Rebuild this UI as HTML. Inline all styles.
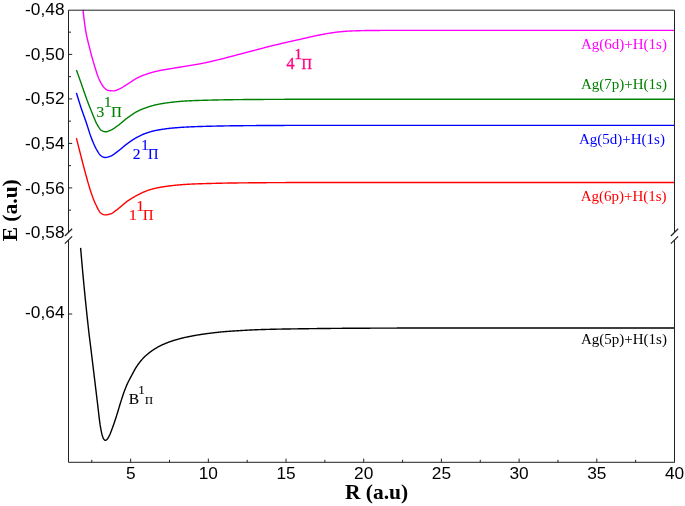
<!DOCTYPE html>
<html><head><meta charset="utf-8"><title>Potential energy curves</title>
<style>html,body{margin:0;padding:0;background:#fff;}body{width:685px;height:506px;position:relative;overflow:hidden;font-family:"Liberation Sans",sans-serif;}</style>
</head><body>
<svg width="685" height="506" viewBox="0 0 685 506" style="position:absolute;left:0;top:0">
<rect width="685" height="506" fill="#fff"/>
<path d="M80.60,247.90 L81.10,253.77 L81.60,259.53 L82.10,265.18 L82.60,270.72 L83.10,276.16 L83.60,281.50 L84.10,286.74 L84.60,291.89 L85.10,296.95 L85.60,301.91 L86.10,306.79 L86.60,311.59 L87.10,316.31 L87.60,320.94 L88.10,325.51 L88.60,330.00 L89.10,334.32 L89.60,338.43 L90.10,342.42 L90.60,346.37 L91.10,350.38 L91.60,354.48 L92.10,358.60 L92.60,362.72 L93.10,366.85 L93.60,370.99 L94.10,375.12 L94.60,379.25 L95.10,383.40 L95.60,387.55 L96.10,391.70 L96.60,395.85 L97.10,399.98 L97.60,404.10 L98.10,408.36 L98.60,412.78 L99.10,417.13 L99.60,421.17 L100.10,424.68 L100.60,427.65 L101.10,430.40 L101.60,432.85 L102.10,434.90 L102.60,436.49 L103.10,437.85 L103.60,438.89 L104.10,439.51 L104.60,439.98 L105.10,440.31 L105.60,440.39 L106.10,440.19 L106.60,439.78 L107.10,439.30 L107.60,438.71 L108.10,437.94 L108.60,437.05 L109.10,436.09 L109.60,435.09 L110.10,433.97 L110.60,432.76 L111.10,431.49 L111.60,430.15 L112.10,428.79 L112.60,427.42 L113.10,426.05 L113.60,424.65 L114.10,423.22 L114.60,421.75 L115.10,420.25 L115.60,418.73 L116.10,417.19 L116.60,415.64 L117.10,414.07 L117.60,412.45 L118.10,410.78 L118.60,409.09 L119.10,407.39 L119.60,405.71 L120.10,404.05 L120.60,402.44 L121.10,400.88 L121.60,399.35 L122.10,397.81 L122.60,396.29 L123.10,394.79 L123.60,393.32 L124.10,391.89 L124.60,390.50 L125.10,389.16 L125.60,387.88 L126.10,386.66 L126.60,385.50 L127.10,384.39 L127.60,383.31 L128.10,382.26 L128.60,381.25 L129.10,380.26 L129.60,379.28 L130.10,378.33 L130.60,377.38 L131.10,376.44 L131.60,375.50 L132.10,374.56 L132.60,373.62 L133.10,372.68 L133.60,371.75 L134.10,370.84 L134.60,369.94 L135.10,369.07 L135.60,368.21 L136.10,367.39 L136.60,366.60 L137.10,365.85 L137.60,365.12 L138.10,364.42 L138.60,363.73 L139.10,363.07 L139.60,362.41 L140.10,361.78 L140.60,361.16 L141.10,360.56 L141.60,359.98 L142.10,359.41 L142.60,358.86 L143.10,358.32 L143.60,357.80 L144.10,357.29 L144.60,356.80 L145.10,356.32 L145.60,355.85 L146.10,355.40 L146.60,354.95 L147.10,354.52 L147.60,354.09 L148.10,353.68 L148.60,353.28 L149.10,352.88 L149.60,352.50 L150.10,352.13 L150.60,351.76 L151.10,351.40 L151.60,351.04 L152.10,350.69 L152.60,350.34 L153.10,350.00 L153.60,349.66 L154.10,349.33 L154.60,349.01 L155.10,348.69 L155.60,348.38 L156.10,348.08 L156.60,347.78 L157.10,347.49 L157.60,347.21 L158.10,346.93 L158.60,346.66 L159.10,346.40 L159.60,346.15 L160.10,345.90 L160.60,345.65 L161.10,345.41 L161.60,345.17 L162.10,344.93 L162.60,344.70 L163.10,344.47 L163.60,344.25 L164.10,344.03 L164.60,343.81 L165.10,343.60 L165.60,343.39 L166.10,343.19 L166.60,342.98 L167.10,342.79 L167.60,342.59 L168.10,342.40 L168.60,342.21 L169.10,342.03 L169.60,341.85 L170.10,341.67 L170.60,341.50 L171.10,341.33 L171.60,341.17 L172.10,341.00 L172.60,340.84 L173.10,340.68 L173.60,340.53 L174.10,340.37 L174.60,340.22 L175.10,340.07 L175.60,339.92 L176.10,339.77 L176.60,339.62 L177.10,339.48 L177.60,339.34 L178.10,339.20 L178.60,339.06 L179.10,338.92 L179.60,338.79 L180.10,338.66 L180.60,338.53 L181.10,338.40 L181.60,338.27 L182.10,338.15 L182.60,338.03 L183.10,337.90 L183.60,337.79 L184.10,337.67 L184.60,337.55 L185.10,337.44 L185.60,337.33 L186.10,337.22 L186.60,337.11 L187.10,337.00 L187.60,336.89 L188.10,336.79 L188.60,336.69 L189.10,336.58 L189.60,336.48 L190.10,336.38 L190.60,336.29 L191.10,336.19 L191.60,336.09 L192.10,336.00 L192.60,335.90 L193.10,335.81 L193.60,335.72 L194.10,335.62 L194.60,335.53 L195.10,335.44 L195.60,335.36 L196.10,335.27 L196.60,335.18 L197.10,335.10 L197.60,335.01 L198.10,334.93 L198.60,334.85 L199.10,334.77 L199.60,334.69 L200.10,334.61 L200.60,334.53 L201.10,334.45 L201.60,334.38 L202.10,334.30 L202.60,334.23 L203.10,334.15 L203.60,334.08 L204.10,334.01 L204.60,333.94 L205.10,333.87 L205.60,333.80 L206.10,333.73 L206.60,333.66 L207.10,333.60 L207.60,333.53 L208.10,333.46 L208.60,333.40 L209.10,333.33 L209.60,333.27 L210.10,333.21 L210.60,333.14 L211.10,333.08 L211.60,333.02 L212.10,332.96 L212.60,332.90 L213.10,332.84 L213.60,332.78 L214.10,332.72 L214.60,332.66 L215.10,332.60 L215.60,332.55 L216.10,332.49 L216.60,332.43 L217.10,332.38 L217.60,332.33 L218.10,332.27 L218.60,332.22 L219.10,332.17 L219.60,332.12 L220.10,332.07 L220.60,332.02 L221.10,331.97 L221.60,331.92 L222.10,331.88 L222.60,331.83 L223.10,331.79 L223.60,331.74 L224.10,331.70 L224.60,331.66 L225.10,331.62 L225.60,331.57 L226.10,331.53 L226.60,331.49 L227.10,331.45 L227.60,331.42 L228.10,331.38 L228.60,331.34 L229.10,331.30 L229.60,331.27 L230.10,331.23 L230.60,331.19 L231.10,331.16 L231.60,331.12 L232.10,331.09 L232.60,331.06 L233.10,331.02 L233.60,330.99 L234.10,330.96 L234.60,330.93 L235.10,330.89 L235.60,330.86 L236.10,330.83 L236.60,330.80 L237.10,330.77 L237.60,330.74 L238.10,330.71 L238.60,330.68 L239.10,330.65 L239.60,330.62 L240.10,330.59 L240.60,330.57 L241.10,330.54 L241.60,330.51 L242.10,330.48 L242.60,330.45 L243.10,330.42 L243.60,330.39 L244.10,330.37 L244.60,330.34 L245.10,330.31 L245.60,330.28 L246.10,330.25 L246.60,330.23 L247.10,330.20 L247.60,330.17 L248.10,330.14 L248.60,330.12 L249.10,330.09 L249.60,330.06 L250.10,330.04 L250.60,330.01 L251.10,329.99 L251.60,329.96 L252.10,329.94 L252.60,329.91 L253.10,329.89 L253.60,329.86 L254.10,329.84 L254.60,329.82 L255.10,329.79 L255.60,329.77 L256.10,329.75 L256.60,329.73 L257.10,329.71 L257.60,329.69 L258.10,329.67 L258.60,329.65 L259.10,329.63 L259.60,329.61 L260.10,329.59 L260.60,329.58 L261.10,329.56 L261.60,329.54 L262.10,329.53 L262.60,329.51 L263.10,329.50 L263.60,329.48 L264.10,329.47 L264.60,329.46 L265.10,329.44 L265.60,329.43 L266.10,329.42 L266.60,329.40 L267.10,329.39 L267.60,329.38 L268.10,329.36 L268.60,329.35 L269.10,329.34 L269.60,329.33 L270.10,329.32 L270.60,329.30 L271.10,329.29 L271.60,329.28 L272.10,329.27 L272.60,329.26 L273.10,329.25 L273.60,329.24 L274.10,329.22 L274.60,329.21 L275.10,329.20 L275.60,329.19 L276.10,329.18 L276.60,329.17 L277.10,329.16 L277.60,329.15 L278.10,329.14 L278.60,329.13 L279.10,329.12 L279.60,329.11 L280.10,329.10 L280.60,329.09 L281.10,329.09 L281.60,329.08 L282.10,329.07 L282.60,329.06 L283.10,329.05 L283.60,329.04 L284.10,329.03 L284.60,329.02 L285.10,329.01 L285.60,329.01 L286.10,329.00 L286.60,328.99 L287.10,328.98 L287.60,328.97 L288.10,328.97 L288.60,328.96 L289.10,328.95 L289.60,328.94 L290.10,328.93 L290.60,328.93 L291.10,328.92 L291.60,328.91 L292.10,328.90 L292.60,328.90 L293.10,328.89 L293.60,328.88 L294.10,328.88 L294.60,328.87 L295.10,328.86 L295.60,328.85 L296.10,328.85 L296.60,328.84 L297.10,328.83 L297.60,328.83 L298.10,328.82 L298.60,328.81 L299.10,328.81 L299.60,328.80 L300.10,328.79 L300.60,328.79 L301.10,328.78 L301.60,328.77 L302.10,328.77 L302.60,328.76 L303.10,328.75 L303.60,328.75 L304.10,328.74 L304.60,328.73 L305.10,328.73 L305.60,328.72 L306.10,328.71 L306.60,328.71 L307.10,328.70 L307.60,328.69 L308.10,328.69 L308.60,328.68 L309.10,328.67 L309.60,328.67 L310.10,328.66 L310.60,328.65 L311.10,328.65 L311.60,328.64 L312.10,328.64 L312.60,328.63 L313.10,328.62 L313.60,328.62 L314.10,328.61 L314.60,328.60 L315.10,328.60 L315.60,328.59 L316.10,328.59 L316.60,328.58 L317.10,328.57 L317.60,328.57 L318.10,328.56 L318.60,328.56 L319.10,328.55 L319.60,328.54 L320.10,328.54 L320.60,328.53 L321.10,328.53 L321.60,328.52 L322.10,328.52 L322.60,328.51 L323.10,328.50 L323.60,328.50 L324.10,328.49 L324.60,328.49 L325.10,328.48 L325.60,328.48 L326.10,328.47 L326.60,328.47 L327.10,328.46 L327.60,328.46 L328.10,328.45 L328.60,328.45 L329.10,328.44 L329.60,328.44 L330.10,328.43 L330.60,328.43 L331.10,328.42 L331.60,328.42 L332.10,328.41 L332.60,328.41 L333.10,328.40 L333.60,328.40 L334.10,328.39 L334.60,328.39 L335.10,328.38 L335.60,328.38 L336.10,328.37 L336.60,328.37 L337.10,328.36 L337.60,328.36 L338.10,328.36 L338.60,328.35 L339.10,328.35 L339.60,328.34 L340.10,328.34 L340.60,328.34 L341.10,328.33 L341.60,328.33 L342.10,328.32 L342.60,328.32 L343.10,328.32 L343.60,328.31 L344.10,328.31 L344.60,328.31 L345.10,328.30 L345.60,328.30 L346.10,328.30 L346.60,328.29 L347.10,328.29 L347.60,328.29 L348.10,328.28 L348.60,328.28 L349.10,328.28 L349.60,328.27 L350.10,328.27 L350.60,328.27 L351.10,328.26 L351.60,328.26 L352.10,328.26 L352.60,328.26 L353.10,328.25 L353.60,328.25 L354.10,328.25 L354.60,328.25 L355.10,328.24 L355.60,328.24 L356.10,328.24 L356.60,328.24 L357.10,328.24 L357.60,328.23 L358.10,328.23 L358.60,328.23 L359.10,328.23 L359.60,328.22 L360.10,328.22 L360.60,328.22 L361.10,328.22 L361.60,328.21 L362.10,328.21 L362.60,328.21 L363.10,328.21 L363.60,328.21 L364.10,328.20 L364.60,328.20 L365.10,328.20 L365.60,328.20 L366.10,328.19 L366.60,328.19 L367.10,328.19 L367.60,328.19 L368.10,328.19 L368.60,328.18 L369.10,328.18 L369.60,328.18 L370.10,328.18 L370.60,328.17 L371.10,328.17 L371.60,328.17 L372.10,328.17 L372.60,328.17 L373.10,328.16 L373.60,328.16 L374.10,328.16 L374.60,328.16 L375.10,328.16 L375.60,328.15 L376.10,328.15 L376.60,328.15 L377.10,328.15 L377.60,328.15 L378.10,328.14 L378.60,328.14 L379.10,328.14 L379.60,328.14 L380.10,328.14 L380.60,328.13 L381.10,328.13 L381.60,328.13 L382.10,328.13 L382.60,328.13 L383.10,328.12 L383.60,328.12 L384.10,328.12 L384.60,328.12 L385.10,328.12 L385.60,328.11 L386.10,328.11 L386.60,328.11 L387.10,328.11 L387.60,328.11 L388.10,328.10 L388.60,328.10 L389.10,328.10 L389.60,328.10 L390.10,328.10 L390.60,328.10 L391.10,328.09 L391.60,328.09 L392.10,328.09 L392.60,328.09 L393.10,328.09 L393.60,328.09 L394.10,328.08 L394.60,328.08 L395.10,328.08 L395.60,328.08 L396.10,328.08 L396.60,328.08 L397.10,328.07 L397.60,328.07 L398.10,328.07 L398.60,328.07 L399.10,328.07 L399.60,328.07 L400.10,328.06 L400.60,328.06 L401.10,328.06 L401.60,328.06 L402.10,328.06 L402.60,328.06 L403.10,328.06 L403.60,328.05 L404.10,328.05 L404.60,328.05 L405.10,328.05 L405.60,328.05 L406.10,328.05 L406.60,328.05 L407.10,328.05 L407.60,328.04 L408.10,328.04 L408.60,328.04 L409.10,328.04 L409.60,328.04 L410.10,328.04 L410.60,328.04 L411.10,328.04 L411.60,328.03 L412.10,328.03 L412.60,328.03 L413.10,328.03 L413.60,328.03 L414.10,328.03 L414.60,328.03 L415.10,328.03 L415.60,328.03 L416.10,328.02 L416.60,328.02 L417.10,328.02 L417.60,328.02 L418.10,328.02 L418.60,328.02 L419.10,328.02 L419.60,328.02 L674.50,328.00" fill="none" stroke="#000000" stroke-width="1.4" stroke-linejoin="round"/>
<path d="M76.40,138.20 L76.90,140.19 L77.40,142.17 L77.90,144.14 L78.40,146.11 L78.90,148.07 L79.40,150.03 L79.90,151.98 L80.40,153.92 L80.90,155.86 L81.40,157.81 L81.90,159.76 L82.40,161.71 L82.90,163.65 L83.40,165.58 L83.90,167.50 L84.40,169.39 L84.90,171.26 L85.40,173.11 L85.90,174.92 L86.40,176.74 L86.90,178.56 L87.40,180.36 L87.90,182.15 L88.40,183.91 L88.90,185.64 L89.40,187.32 L89.90,188.94 L90.40,190.50 L90.90,191.99 L91.40,193.45 L91.90,194.87 L92.40,196.27 L92.90,197.64 L93.40,198.96 L93.90,200.24 L94.40,201.47 L94.90,202.64 L95.40,203.76 L95.90,204.80 L96.40,205.80 L96.90,206.82 L97.40,207.83 L97.90,208.81 L98.40,209.75 L98.90,210.63 L99.40,211.43 L99.90,212.13 L100.40,212.72 L100.90,213.16 L101.40,213.48 L101.90,213.78 L102.40,214.05 L102.90,214.30 L103.40,214.52 L103.90,214.69 L104.40,214.82 L104.90,214.89 L105.40,214.90 L105.90,214.87 L106.40,214.83 L106.90,214.76 L107.40,214.67 L107.90,214.57 L108.40,214.45 L108.90,214.32 L109.40,214.19 L109.90,214.04 L110.40,213.90 L110.90,213.73 L111.40,213.53 L111.90,213.28 L112.40,213.00 L112.90,212.69 L113.40,212.36 L113.90,212.01 L114.40,211.64 L114.90,211.26 L115.40,210.88 L115.90,210.49 L116.40,210.10 L116.90,209.72 L117.40,209.35 L117.90,208.98 L118.40,208.61 L118.90,208.22 L119.40,207.82 L119.90,207.41 L120.40,206.99 L120.90,206.56 L121.40,206.13 L121.90,205.70 L122.40,205.27 L122.90,204.83 L123.40,204.40 L123.90,203.97 L124.40,203.54 L124.90,203.13 L125.40,202.71 L125.90,202.31 L126.40,201.92 L126.90,201.54 L127.40,201.18 L127.90,200.83 L128.40,200.49 L128.90,200.16 L129.40,199.83 L129.90,199.50 L130.40,199.18 L130.90,198.87 L131.40,198.56 L131.90,198.25 L132.40,197.95 L132.90,197.65 L133.40,197.36 L133.90,197.07 L134.40,196.79 L134.90,196.50 L135.40,196.23 L135.90,195.96 L136.40,195.69 L136.90,195.42 L137.40,195.16 L137.90,194.90 L138.40,194.65 L138.90,194.39 L139.40,194.14 L139.90,193.89 L140.40,193.64 L140.90,193.39 L141.40,193.14 L141.90,192.90 L142.40,192.66 L142.90,192.42 L143.40,192.19 L143.90,191.96 L144.40,191.74 L144.90,191.52 L145.40,191.31 L145.90,191.11 L146.40,190.91 L146.90,190.72 L147.40,190.54 L147.90,190.37 L148.40,190.20 L148.90,190.04 L149.40,189.88 L149.90,189.73 L150.40,189.58 L150.90,189.44 L151.40,189.30 L151.90,189.16 L152.40,189.02 L152.90,188.89 L153.40,188.76 L153.90,188.64 L154.40,188.52 L154.90,188.40 L155.40,188.28 L155.90,188.17 L156.40,188.06 L156.90,187.96 L157.40,187.85 L157.90,187.75 L158.40,187.66 L158.90,187.56 L159.40,187.47 L159.90,187.38 L160.40,187.29 L160.90,187.20 L161.40,187.12 L161.90,187.03 L162.40,186.95 L162.90,186.86 L163.40,186.78 L163.90,186.71 L164.40,186.63 L164.90,186.55 L165.40,186.48 L165.90,186.40 L166.40,186.33 L166.90,186.26 L167.40,186.19 L167.90,186.12 L168.40,186.06 L168.90,185.99 L169.40,185.93 L169.90,185.87 L170.40,185.81 L170.90,185.75 L171.40,185.69 L171.90,185.63 L172.40,185.58 L172.90,185.52 L173.40,185.47 L173.90,185.42 L174.40,185.36 L174.90,185.31 L175.40,185.26 L175.90,185.21 L176.40,185.17 L176.90,185.12 L177.40,185.07 L177.90,185.02 L178.40,184.98 L178.90,184.93 L179.40,184.89 L179.90,184.85 L180.40,184.80 L180.90,184.76 L181.40,184.72 L181.90,184.68 L182.40,184.64 L182.90,184.60 L183.40,184.57 L183.90,184.53 L184.40,184.50 L184.90,184.46 L185.40,184.43 L185.90,184.40 L186.40,184.37 L186.90,184.34 L187.40,184.31 L187.90,184.28 L188.40,184.25 L188.90,184.22 L189.40,184.20 L189.90,184.17 L190.40,184.14 L190.90,184.12 L191.40,184.09 L191.90,184.07 L192.40,184.04 L192.90,184.02 L193.40,184.00 L193.90,183.98 L194.40,183.96 L194.90,183.93 L195.40,183.91 L195.90,183.89 L196.40,183.87 L196.90,183.86 L197.40,183.84 L197.90,183.82 L198.40,183.80 L198.90,183.78 L199.40,183.77 L199.90,183.75 L200.40,183.74 L200.90,183.72 L201.40,183.71 L201.90,183.69 L202.40,183.68 L202.90,183.66 L203.40,183.65 L203.90,183.63 L204.40,183.62 L204.90,183.60 L205.40,183.59 L205.90,183.58 L206.40,183.56 L206.90,183.55 L207.40,183.53 L207.90,183.52 L208.40,183.51 L208.90,183.49 L209.40,183.48 L209.90,183.47 L210.40,183.45 L210.90,183.44 L211.40,183.43 L211.90,183.41 L212.40,183.40 L212.90,183.39 L213.40,183.38 L213.90,183.36 L214.40,183.35 L214.90,183.34 L215.40,183.33 L215.90,183.31 L216.40,183.30 L216.90,183.29 L217.40,183.28 L217.90,183.27 L218.40,183.26 L218.90,183.24 L219.40,183.23 L219.90,183.22 L220.40,183.21 L220.90,183.20 L221.40,183.19 L221.90,183.18 L222.40,183.17 L222.90,183.16 L223.40,183.15 L223.90,183.14 L224.40,183.13 L224.90,183.12 L225.40,183.11 L225.90,183.10 L226.40,183.09 L226.90,183.08 L227.40,183.07 L227.90,183.06 L228.40,183.06 L228.90,183.05 L229.40,183.04 L229.90,183.03 L230.40,183.02 L230.90,183.01 L231.40,183.01 L231.90,183.00 L232.40,182.99 L232.90,182.98 L233.40,182.98 L233.90,182.97 L234.40,182.96 L234.90,182.96 L235.40,182.95 L235.90,182.94 L236.40,182.94 L236.90,182.93 L237.40,182.93 L237.90,182.92 L238.40,182.92 L238.90,182.91 L239.40,182.91 L239.90,182.90 L240.40,182.90 L240.90,182.89 L241.40,182.89 L241.90,182.88 L242.40,182.88 L242.90,182.87 L243.40,182.87 L243.90,182.86 L244.40,182.86 L244.90,182.85 L245.40,182.85 L245.90,182.84 L246.40,182.84 L246.90,182.84 L247.40,182.83 L247.90,182.83 L248.40,182.82 L248.90,182.82 L249.40,182.81 L249.90,182.81 L250.40,182.80 L250.90,182.80 L251.40,182.80 L251.90,182.79 L252.40,182.79 L252.90,182.78 L253.40,182.78 L253.90,182.77 L254.40,182.77 L254.90,182.77 L255.40,182.76 L255.90,182.76 L256.40,182.75 L256.90,182.75 L257.40,182.75 L257.90,182.74 L258.40,182.74 L258.90,182.73 L259.40,182.73 L259.90,182.73 L260.40,182.72 L260.90,182.72 L261.40,182.71 L261.90,182.71 L262.40,182.71 L262.90,182.70 L263.40,182.70 L263.90,182.70 L264.40,182.69 L264.90,182.69 L265.40,182.68 L265.90,182.68 L266.40,182.68 L266.90,182.67 L267.40,182.67 L267.90,182.67 L268.40,182.66 L268.90,182.66 L269.40,182.66 L269.90,182.65 L270.40,182.65 L270.90,182.65 L271.40,182.64 L271.90,182.64 L272.40,182.64 L272.90,182.64 L273.40,182.63 L273.90,182.63 L274.40,182.63 L274.90,182.62 L275.40,182.62 L275.90,182.62 L276.40,182.62 L276.90,182.61 L277.40,182.61 L277.90,182.61 L278.40,182.61 L278.90,182.60 L279.40,182.60 L279.90,182.60 L280.40,182.60 L280.90,182.59 L281.40,182.59 L281.90,182.59 L282.40,182.59 L282.90,182.59 L283.40,182.58 L283.90,182.58 L284.40,182.58 L284.90,182.58 L285.40,182.58 L285.90,182.57 L286.40,182.57 L286.90,182.57 L287.40,182.57 L287.90,182.57 L288.40,182.57 L288.90,182.57 L289.40,182.56 L289.90,182.56 L290.40,182.56 L290.90,182.56 L291.40,182.56 L291.90,182.56 L292.40,182.56 L292.90,182.56 L293.40,182.56 L293.90,182.55 L294.40,182.55 L294.90,182.55 L295.40,182.55 L295.90,182.55 L296.40,182.55 L296.90,182.55 L297.40,182.55 L297.90,182.55 L298.40,182.55 L298.90,182.55 L299.40,182.55 L299.90,182.55 L300.40,182.55 L300.90,182.55 L301.40,182.55 L301.90,182.55 L302.40,182.55 L302.90,182.55 L303.40,182.55 L303.90,182.55 L304.40,182.55 L304.90,182.55 L305.40,182.55 L305.90,182.55 L306.40,182.55 L306.90,182.55 L307.40,182.55 L307.90,182.55 L308.40,182.55 L308.90,182.55 L309.40,182.55 L309.90,182.55 L310.40,182.55 L310.90,182.55 L311.40,182.55 L311.90,182.55 L312.40,182.55 L312.90,182.55 L313.40,182.55 L313.90,182.55 L314.40,182.55 L314.90,182.55 L315.40,182.55 L315.90,182.55 L316.40,182.55 L316.90,182.55 L317.40,182.55 L317.90,182.55 L318.40,182.55 L318.90,182.55 L319.40,182.55 L319.90,182.55 L320.40,182.55 L320.90,182.55 L321.40,182.55 L321.90,182.55 L322.40,182.55 L322.90,182.55 L323.40,182.55 L323.90,182.55 L324.40,182.55 L324.90,182.55 L325.40,182.55 L325.90,182.55 L326.40,182.55 L326.90,182.55 L327.40,182.55 L327.90,182.55 L328.40,182.55 L328.90,182.55 L329.40,182.55 L329.90,182.55 L330.40,182.55 L330.90,182.55 L331.40,182.55 L331.90,182.55 L332.40,182.55 L332.90,182.55 L333.40,182.55 L333.90,182.55 L334.40,182.55 L334.90,182.55 L335.40,182.55 L335.90,182.55 L336.40,182.55 L336.90,182.55 L337.40,182.55 L337.90,182.55 L338.40,182.55 L338.90,182.55 L339.40,182.55 L339.90,182.55 L340.40,182.55 L340.90,182.55 L341.40,182.55 L341.90,182.55 L342.40,182.55 L342.90,182.55 L343.40,182.55 L343.90,182.55 L344.40,182.55 L344.90,182.55 L345.40,182.55 L345.90,182.55 L346.40,182.55 L346.90,182.55 L347.40,182.55 L347.90,182.55 L348.40,182.55 L348.90,182.55 L349.40,182.55 L349.90,182.55 L350.40,182.55 L350.90,182.55 L351.40,182.55 L351.90,182.55 L352.40,182.55 L352.90,182.55 L353.40,182.55 L353.90,182.55 L354.40,182.55 L354.90,182.55 L355.40,182.55 L355.90,182.55 L356.40,182.55 L356.90,182.55 L357.40,182.55 L357.90,182.55 L358.40,182.55 L358.90,182.55 L359.40,182.55 L359.90,182.55 L360.40,182.55 L360.90,182.55 L361.40,182.55 L361.90,182.55 L362.40,182.55 L362.90,182.55 L363.40,182.55 L363.90,182.55 L364.40,182.55 L364.90,182.55 L365.40,182.55 L365.90,182.55 L366.40,182.55 L366.90,182.55 L367.40,182.55 L367.90,182.55 L368.40,182.55 L368.90,182.55 L369.40,182.55 L369.90,182.55 L370.40,182.55 L370.90,182.55 L371.40,182.55 L371.90,182.55 L372.40,182.55 L372.90,182.55 L373.40,182.55 L373.90,182.55 L374.40,182.55 L374.90,182.55 L375.40,182.55 L375.90,182.55 L376.40,182.55 L376.90,182.55 L377.40,182.55 L377.90,182.55 L378.40,182.55 L378.90,182.55 L379.40,182.55 L379.90,182.55 L380.40,182.55 L380.90,182.55 L381.40,182.55 L381.90,182.55 L382.40,182.55 L382.90,182.55 L383.40,182.55 L383.90,182.55 L384.40,182.55 L384.90,182.55 L385.40,182.55 L385.90,182.55 L386.40,182.55 L386.90,182.55 L387.40,182.55 L387.90,182.55 L388.40,182.55 L388.90,182.55 L389.40,182.55 L389.90,182.55 L390.40,182.55 L390.90,182.55 L391.40,182.55 L391.90,182.55 L392.40,182.55 L392.90,182.55 L393.40,182.55 L393.90,182.55 L394.40,182.55 L394.90,182.55 L395.40,182.55 L395.90,182.55 L396.40,182.55 L396.90,182.55 L397.40,182.55 L397.90,182.55 L398.40,182.55 L398.90,182.55 L399.40,182.55 L399.90,182.55 L400.40,182.55 L400.90,182.55 L401.40,182.55 L401.90,182.55 L402.40,182.55 L402.90,182.55 L403.40,182.55 L403.90,182.55 L404.40,182.55 L404.90,182.55 L405.40,182.55 L405.90,182.55 L406.40,182.55 L406.90,182.55 L407.40,182.55 L407.90,182.55 L408.40,182.55 L408.90,182.55 L409.40,182.55 L409.90,182.55 L410.40,182.55 L410.90,182.55 L411.40,182.55 L411.90,182.55 L412.40,182.55 L412.90,182.55 L413.40,182.55 L413.90,182.55 L414.40,182.55 L414.90,182.55 L415.40,182.55 L415.90,182.55 L416.40,182.55 L416.90,182.55 L417.40,182.55 L417.90,182.55 L418.40,182.55 L418.90,182.55 L419.40,182.55 L419.90,182.55 L674.50,182.55" fill="none" stroke="#ff0000" stroke-width="1.4" stroke-linejoin="round"/>
<path d="M76.40,92.90 L76.90,94.56 L77.40,96.20 L77.90,97.82 L78.40,99.43 L78.90,101.03 L79.40,102.60 L79.90,104.16 L80.40,105.69 L80.90,107.20 L81.40,108.69 L81.90,110.15 L82.40,111.58 L82.90,113.01 L83.40,114.42 L83.90,115.83 L84.40,117.24 L84.90,118.66 L85.40,120.08 L85.90,121.53 L86.40,123.00 L86.90,124.51 L87.40,126.06 L87.90,127.64 L88.40,129.22 L88.90,130.81 L89.40,132.37 L89.90,133.89 L90.40,135.37 L90.90,136.78 L91.40,138.10 L91.90,139.37 L92.40,140.62 L92.90,141.84 L93.40,143.03 L93.90,144.18 L94.40,145.29 L94.90,146.36 L95.40,147.37 L95.90,148.33 L96.40,149.23 L96.90,150.08 L97.40,150.94 L97.90,151.78 L98.40,152.60 L98.90,153.36 L99.40,154.07 L99.90,154.70 L100.40,155.24 L100.90,155.66 L101.40,155.99 L101.90,156.30 L102.40,156.59 L102.90,156.85 L103.40,157.09 L103.90,157.27 L104.40,157.41 L104.90,157.49 L105.40,157.50 L105.90,157.46 L106.40,157.40 L106.90,157.31 L107.40,157.19 L107.90,157.05 L108.40,156.90 L108.90,156.73 L109.40,156.56 L109.90,156.38 L110.40,156.20 L110.90,156.01 L111.40,155.78 L111.90,155.52 L112.40,155.23 L112.90,154.92 L113.40,154.59 L113.90,154.25 L114.40,153.89 L114.90,153.52 L115.40,153.14 L115.90,152.76 L116.40,152.39 L116.90,152.01 L117.40,151.64 L117.90,151.28 L118.40,150.91 L118.90,150.53 L119.40,150.14 L119.90,149.74 L120.40,149.33 L120.90,148.91 L121.40,148.50 L121.90,148.07 L122.40,147.65 L122.90,147.23 L123.40,146.80 L123.90,146.38 L124.40,145.96 L124.90,145.55 L125.40,145.14 L125.90,144.74 L126.40,144.35 L126.90,143.96 L127.40,143.59 L127.90,143.23 L128.40,142.87 L128.90,142.52 L129.40,142.16 L129.90,141.81 L130.40,141.46 L130.90,141.12 L131.40,140.77 L131.90,140.43 L132.40,140.10 L132.90,139.77 L133.40,139.44 L133.90,139.12 L134.40,138.80 L134.90,138.50 L135.40,138.19 L135.90,137.90 L136.40,137.61 L136.90,137.33 L137.40,137.06 L137.90,136.80 L138.40,136.55 L138.90,136.30 L139.40,136.05 L139.90,135.81 L140.40,135.57 L140.90,135.34 L141.40,135.11 L141.90,134.88 L142.40,134.66 L142.90,134.44 L143.40,134.23 L143.90,134.02 L144.40,133.82 L144.90,133.62 L145.40,133.43 L145.90,133.24 L146.40,133.06 L146.90,132.89 L147.40,132.72 L147.90,132.56 L148.40,132.40 L148.90,132.25 L149.40,132.10 L149.90,131.95 L150.40,131.81 L150.90,131.67 L151.40,131.53 L151.90,131.40 L152.40,131.27 L152.90,131.14 L153.40,131.02 L153.90,130.89 L154.40,130.78 L154.90,130.66 L155.40,130.55 L155.90,130.44 L156.40,130.34 L156.90,130.24 L157.40,130.14 L157.90,130.04 L158.40,129.95 L158.90,129.87 L159.40,129.78 L159.90,129.70 L160.40,129.61 L160.90,129.53 L161.40,129.45 L161.90,129.37 L162.40,129.30 L162.90,129.22 L163.40,129.15 L163.90,129.08 L164.40,129.01 L164.90,128.94 L165.40,128.87 L165.90,128.80 L166.40,128.74 L166.90,128.67 L167.40,128.61 L167.90,128.55 L168.40,128.49 L168.90,128.43 L169.40,128.37 L169.90,128.32 L170.40,128.27 L170.90,128.21 L171.40,128.16 L171.90,128.11 L172.40,128.07 L172.90,128.02 L173.40,127.97 L173.90,127.93 L174.40,127.88 L174.90,127.84 L175.40,127.80 L175.90,127.76 L176.40,127.72 L176.90,127.68 L177.40,127.64 L177.90,127.60 L178.40,127.56 L178.90,127.53 L179.40,127.49 L179.90,127.45 L180.40,127.42 L180.90,127.39 L181.40,127.35 L181.90,127.32 L182.40,127.29 L182.90,127.26 L183.40,127.23 L183.90,127.20 L184.40,127.17 L184.90,127.14 L185.40,127.11 L185.90,127.08 L186.40,127.06 L186.90,127.03 L187.40,127.01 L187.90,126.98 L188.40,126.96 L188.90,126.93 L189.40,126.91 L189.90,126.88 L190.40,126.86 L190.90,126.84 L191.40,126.81 L191.90,126.79 L192.40,126.77 L192.90,126.75 L193.40,126.73 L193.90,126.71 L194.40,126.69 L194.90,126.67 L195.40,126.65 L195.90,126.63 L196.40,126.61 L196.90,126.60 L197.40,126.58 L197.90,126.56 L198.40,126.55 L198.90,126.53 L199.40,126.52 L199.90,126.50 L200.40,126.49 L200.90,126.47 L201.40,126.46 L201.90,126.45 L202.40,126.43 L202.90,126.42 L203.40,126.41 L203.90,126.39 L204.40,126.38 L204.90,126.36 L205.40,126.35 L205.90,126.34 L206.40,126.32 L206.90,126.31 L207.40,126.30 L207.90,126.29 L208.40,126.27 L208.90,126.26 L209.40,126.25 L209.90,126.23 L210.40,126.22 L210.90,126.21 L211.40,126.20 L211.90,126.18 L212.40,126.17 L212.90,126.16 L213.40,126.15 L213.90,126.14 L214.40,126.12 L214.90,126.11 L215.40,126.10 L215.90,126.09 L216.40,126.08 L216.90,126.07 L217.40,126.06 L217.90,126.04 L218.40,126.03 L218.90,126.02 L219.40,126.01 L219.90,126.00 L220.40,125.99 L220.90,125.98 L221.40,125.97 L221.90,125.96 L222.40,125.95 L222.90,125.94 L223.40,125.93 L223.90,125.92 L224.40,125.91 L224.90,125.90 L225.40,125.90 L225.90,125.89 L226.40,125.88 L226.90,125.87 L227.40,125.86 L227.90,125.85 L228.40,125.84 L228.90,125.84 L229.40,125.83 L229.90,125.82 L230.40,125.81 L230.90,125.81 L231.40,125.80 L231.90,125.79 L232.40,125.78 L232.90,125.78 L233.40,125.77 L233.90,125.76 L234.40,125.76 L234.90,125.75 L235.40,125.75 L235.90,125.74 L236.40,125.73 L236.90,125.73 L237.40,125.72 L237.90,125.72 L238.40,125.71 L238.90,125.71 L239.40,125.71 L239.90,125.70 L240.40,125.70 L240.90,125.69 L241.40,125.69 L241.90,125.68 L242.40,125.68 L242.90,125.68 L243.40,125.67 L243.90,125.67 L244.40,125.66 L244.90,125.66 L245.40,125.66 L245.90,125.65 L246.40,125.65 L246.90,125.64 L247.40,125.64 L247.90,125.64 L248.40,125.63 L248.90,125.63 L249.40,125.62 L249.90,125.62 L250.40,125.62 L250.90,125.61 L251.40,125.61 L251.90,125.61 L252.40,125.60 L252.90,125.60 L253.40,125.59 L253.90,125.59 L254.40,125.59 L254.90,125.58 L255.40,125.58 L255.90,125.58 L256.40,125.57 L256.90,125.57 L257.40,125.57 L257.90,125.56 L258.40,125.56 L258.90,125.56 L259.40,125.55 L259.90,125.55 L260.40,125.55 L260.90,125.54 L261.40,125.54 L261.90,125.54 L262.40,125.53 L262.90,125.53 L263.40,125.53 L263.90,125.52 L264.40,125.52 L264.90,125.52 L265.40,125.51 L265.90,125.51 L266.40,125.51 L266.90,125.50 L267.40,125.50 L267.90,125.50 L268.40,125.50 L268.90,125.49 L269.40,125.49 L269.90,125.49 L270.40,125.49 L270.90,125.48 L271.40,125.48 L271.90,125.48 L272.40,125.47 L272.90,125.47 L273.40,125.47 L273.90,125.47 L274.40,125.47 L274.90,125.46 L275.40,125.46 L275.90,125.46 L276.40,125.46 L276.90,125.45 L277.40,125.45 L277.90,125.45 L278.40,125.45 L278.90,125.45 L279.40,125.44 L279.90,125.44 L280.40,125.44 L280.90,125.44 L281.40,125.44 L281.90,125.43 L282.40,125.43 L282.90,125.43 L283.40,125.43 L283.90,125.43 L284.40,125.43 L284.90,125.42 L285.40,125.42 L285.90,125.42 L286.40,125.42 L286.90,125.42 L287.40,125.42 L287.90,125.42 L288.40,125.41 L288.90,125.41 L289.40,125.41 L289.90,125.41 L290.40,125.41 L290.90,125.41 L291.40,125.41 L291.90,125.41 L292.40,125.41 L292.90,125.41 L293.40,125.40 L293.90,125.40 L294.40,125.40 L294.90,125.40 L295.40,125.40 L295.90,125.40 L296.40,125.40 L296.90,125.40 L297.40,125.40 L297.90,125.40 L298.40,125.40 L298.90,125.40 L299.40,125.40 L299.90,125.40 L300.40,125.40 L300.90,125.40 L301.40,125.40 L301.90,125.40 L302.40,125.40 L302.90,125.40 L303.40,125.40 L303.90,125.40 L304.40,125.40 L304.90,125.40 L305.40,125.40 L305.90,125.40 L306.40,125.40 L306.90,125.40 L307.40,125.40 L307.90,125.40 L308.40,125.40 L308.90,125.40 L309.40,125.40 L309.90,125.40 L310.40,125.40 L310.90,125.40 L311.40,125.40 L311.90,125.40 L312.40,125.40 L312.90,125.40 L313.40,125.40 L313.90,125.40 L314.40,125.40 L314.90,125.40 L315.40,125.40 L315.90,125.40 L316.40,125.40 L316.90,125.40 L317.40,125.40 L317.90,125.40 L318.40,125.40 L318.90,125.40 L319.40,125.40 L319.90,125.40 L320.40,125.40 L320.90,125.40 L321.40,125.40 L321.90,125.40 L322.40,125.40 L322.90,125.40 L323.40,125.40 L323.90,125.40 L324.40,125.40 L324.90,125.40 L325.40,125.40 L325.90,125.40 L326.40,125.40 L326.90,125.40 L327.40,125.40 L327.90,125.40 L328.40,125.40 L328.90,125.40 L329.40,125.40 L329.90,125.40 L330.40,125.40 L330.90,125.40 L331.40,125.40 L331.90,125.40 L332.40,125.40 L332.90,125.40 L333.40,125.40 L333.90,125.40 L334.40,125.40 L334.90,125.40 L335.40,125.40 L335.90,125.40 L336.40,125.40 L336.90,125.40 L337.40,125.40 L337.90,125.40 L338.40,125.40 L338.90,125.40 L339.40,125.40 L339.90,125.40 L340.40,125.40 L340.90,125.40 L341.40,125.40 L341.90,125.40 L342.40,125.40 L342.90,125.40 L343.40,125.40 L343.90,125.40 L344.40,125.40 L344.90,125.40 L345.40,125.40 L345.90,125.40 L346.40,125.40 L346.90,125.40 L347.40,125.40 L347.90,125.40 L348.40,125.40 L348.90,125.40 L349.40,125.40 L349.90,125.40 L350.40,125.40 L350.90,125.40 L351.40,125.40 L351.90,125.40 L352.40,125.40 L352.90,125.40 L353.40,125.40 L353.90,125.40 L354.40,125.40 L354.90,125.40 L355.40,125.40 L355.90,125.40 L356.40,125.40 L356.90,125.40 L357.40,125.40 L357.90,125.40 L358.40,125.40 L358.90,125.40 L359.40,125.40 L359.90,125.40 L360.40,125.40 L360.90,125.40 L361.40,125.40 L361.90,125.40 L362.40,125.40 L362.90,125.40 L363.40,125.40 L363.90,125.40 L364.40,125.40 L364.90,125.40 L365.40,125.40 L365.90,125.40 L366.40,125.40 L366.90,125.40 L367.40,125.40 L367.90,125.40 L368.40,125.40 L368.90,125.40 L369.40,125.40 L369.90,125.40 L370.40,125.40 L370.90,125.40 L371.40,125.40 L371.90,125.40 L372.40,125.40 L372.90,125.40 L373.40,125.40 L373.90,125.40 L374.40,125.40 L374.90,125.40 L375.40,125.40 L375.90,125.40 L376.40,125.40 L376.90,125.40 L377.40,125.40 L377.90,125.40 L378.40,125.40 L378.90,125.40 L379.40,125.40 L379.90,125.40 L380.40,125.40 L380.90,125.40 L381.40,125.40 L381.90,125.40 L382.40,125.40 L382.90,125.40 L383.40,125.40 L383.90,125.40 L384.40,125.40 L384.90,125.40 L385.40,125.40 L385.90,125.40 L386.40,125.40 L386.90,125.40 L387.40,125.40 L387.90,125.40 L388.40,125.40 L388.90,125.40 L389.40,125.40 L389.90,125.40 L390.40,125.40 L390.90,125.40 L391.40,125.40 L391.90,125.40 L392.40,125.40 L392.90,125.40 L393.40,125.40 L393.90,125.40 L394.40,125.40 L394.90,125.40 L395.40,125.40 L395.90,125.40 L396.40,125.40 L396.90,125.40 L397.40,125.40 L397.90,125.40 L398.40,125.40 L398.90,125.40 L399.40,125.40 L399.90,125.40 L400.40,125.40 L400.90,125.40 L401.40,125.40 L401.90,125.40 L402.40,125.40 L402.90,125.40 L403.40,125.40 L403.90,125.40 L404.40,125.40 L404.90,125.40 L405.40,125.40 L405.90,125.40 L406.40,125.40 L406.90,125.40 L407.40,125.40 L407.90,125.40 L408.40,125.40 L408.90,125.40 L409.40,125.40 L409.90,125.40 L410.40,125.40 L410.90,125.40 L411.40,125.40 L411.90,125.40 L412.40,125.40 L412.90,125.40 L413.40,125.40 L413.90,125.40 L414.40,125.40 L414.90,125.40 L415.40,125.40 L415.90,125.40 L416.40,125.40 L416.90,125.40 L417.40,125.40 L417.90,125.40 L418.40,125.40 L418.90,125.40 L419.40,125.40 L419.90,125.40 L674.50,125.40" fill="none" stroke="#0000ff" stroke-width="1.4" stroke-linejoin="round"/>
<path d="M76.40,69.90 L76.90,71.31 L77.40,72.71 L77.90,74.12 L78.40,75.53 L78.90,76.94 L79.40,78.36 L79.90,79.77 L80.40,81.18 L80.90,82.60 L81.40,84.02 L81.90,85.46 L82.40,86.90 L82.90,88.34 L83.40,89.79 L83.90,91.23 L84.40,92.67 L84.90,94.10 L85.40,95.51 L85.90,96.91 L86.40,98.29 L86.90,99.64 L87.40,100.98 L87.90,102.32 L88.40,103.64 L88.90,104.95 L89.40,106.25 L89.90,107.54 L90.40,108.81 L90.90,110.07 L91.40,111.31 L91.90,112.53 L92.40,113.74 L92.90,114.96 L93.40,116.19 L93.90,117.43 L94.40,118.65 L94.90,119.85 L95.40,121.01 L95.90,122.11 L96.40,123.15 L96.90,124.10 L97.40,124.97 L97.90,125.80 L98.40,126.63 L98.90,127.43 L99.40,128.18 L99.90,128.87 L100.40,129.48 L100.90,129.99 L101.40,130.38 L101.90,130.66 L102.40,130.92 L102.90,131.15 L103.40,131.37 L103.90,131.54 L104.40,131.68 L104.90,131.77 L105.40,131.80 L105.90,131.78 L106.40,131.71 L106.90,131.60 L107.40,131.46 L107.90,131.30 L108.40,131.11 L108.90,130.92 L109.40,130.71 L109.90,130.50 L110.40,130.30 L110.90,130.09 L111.40,129.85 L111.90,129.59 L112.40,129.32 L112.90,129.02 L113.40,128.71 L113.90,128.39 L114.40,128.05 L114.90,127.71 L115.40,127.36 L115.90,127.01 L116.40,126.65 L116.90,126.29 L117.40,125.94 L117.90,125.59 L118.40,125.22 L118.90,124.85 L119.40,124.46 L119.90,124.06 L120.40,123.65 L120.90,123.24 L121.40,122.82 L121.90,122.40 L122.40,121.97 L122.90,121.55 L123.40,121.12 L123.90,120.70 L124.40,120.28 L124.90,119.86 L125.40,119.45 L125.90,119.04 L126.40,118.65 L126.90,118.26 L127.40,117.89 L127.90,117.53 L128.40,117.17 L128.90,116.82 L129.40,116.46 L129.90,116.11 L130.40,115.76 L130.90,115.41 L131.40,115.06 L131.90,114.72 L132.40,114.38 L132.90,114.05 L133.40,113.72 L133.90,113.40 L134.40,113.08 L134.90,112.77 L135.40,112.47 L135.90,112.18 L136.40,111.89 L136.90,111.62 L137.40,111.35 L137.90,111.10 L138.40,110.85 L138.90,110.61 L139.40,110.38 L139.90,110.15 L140.40,109.92 L140.90,109.70 L141.40,109.49 L141.90,109.27 L142.40,109.07 L142.90,108.86 L143.40,108.67 L143.90,108.47 L144.40,108.28 L144.90,108.10 L145.40,107.91 L145.90,107.73 L146.40,107.56 L146.90,107.39 L147.40,107.22 L147.90,107.06 L148.40,106.90 L148.90,106.74 L149.40,106.59 L149.90,106.43 L150.40,106.28 L150.90,106.13 L151.40,105.99 L151.90,105.84 L152.40,105.70 L152.90,105.56 L153.40,105.43 L153.90,105.30 L154.40,105.17 L154.90,105.04 L155.40,104.92 L155.90,104.80 L156.40,104.68 L156.90,104.57 L157.40,104.46 L157.90,104.36 L158.40,104.26 L158.90,104.16 L159.40,104.07 L159.90,103.98 L160.40,103.89 L160.90,103.80 L161.40,103.71 L161.90,103.63 L162.40,103.54 L162.90,103.46 L163.40,103.38 L163.90,103.30 L164.40,103.22 L164.90,103.15 L165.40,103.07 L165.90,103.00 L166.40,102.93 L166.90,102.86 L167.40,102.79 L167.90,102.72 L168.40,102.65 L168.90,102.59 L169.40,102.53 L169.90,102.47 L170.40,102.40 L170.90,102.35 L171.40,102.29 L171.90,102.23 L172.40,102.18 L172.90,102.12 L173.40,102.07 L173.90,102.02 L174.40,101.96 L174.90,101.91 L175.40,101.86 L175.90,101.81 L176.40,101.76 L176.90,101.71 L177.40,101.67 L177.90,101.62 L178.40,101.57 L178.90,101.53 L179.40,101.48 L179.90,101.44 L180.40,101.40 L180.90,101.36 L181.40,101.31 L181.90,101.27 L182.40,101.24 L182.90,101.20 L183.40,101.16 L183.90,101.12 L184.40,101.09 L184.90,101.06 L185.40,101.02 L185.90,100.99 L186.40,100.96 L186.90,100.93 L187.40,100.91 L187.90,100.88 L188.40,100.85 L188.90,100.83 L189.40,100.80 L189.90,100.78 L190.40,100.75 L190.90,100.73 L191.40,100.71 L191.90,100.69 L192.40,100.67 L192.90,100.64 L193.40,100.62 L193.90,100.60 L194.40,100.59 L194.90,100.57 L195.40,100.55 L195.90,100.53 L196.40,100.51 L196.90,100.50 L197.40,100.48 L197.90,100.46 L198.40,100.45 L198.90,100.43 L199.40,100.42 L199.90,100.40 L200.40,100.39 L200.90,100.37 L201.40,100.36 L201.90,100.35 L202.40,100.33 L202.90,100.32 L203.40,100.31 L203.90,100.29 L204.40,100.28 L204.90,100.26 L205.40,100.25 L205.90,100.24 L206.40,100.22 L206.90,100.21 L207.40,100.20 L207.90,100.19 L208.40,100.17 L208.90,100.16 L209.40,100.15 L209.90,100.13 L210.40,100.12 L210.90,100.11 L211.40,100.10 L211.90,100.08 L212.40,100.07 L212.90,100.06 L213.40,100.05 L213.90,100.04 L214.40,100.02 L214.90,100.01 L215.40,100.00 L215.90,99.99 L216.40,99.98 L216.90,99.97 L217.40,99.96 L217.90,99.94 L218.40,99.93 L218.90,99.92 L219.40,99.91 L219.90,99.90 L220.40,99.89 L220.90,99.88 L221.40,99.87 L221.90,99.86 L222.40,99.85 L222.90,99.84 L223.40,99.83 L223.90,99.82 L224.40,99.81 L224.90,99.80 L225.40,99.80 L225.90,99.79 L226.40,99.78 L226.90,99.77 L227.40,99.76 L227.90,99.75 L228.40,99.74 L228.90,99.74 L229.40,99.73 L229.90,99.72 L230.40,99.71 L230.90,99.71 L231.40,99.70 L231.90,99.69 L232.40,99.68 L232.90,99.68 L233.40,99.67 L233.90,99.66 L234.40,99.66 L234.90,99.65 L235.40,99.65 L235.90,99.64 L236.40,99.63 L236.90,99.63 L237.40,99.62 L237.90,99.62 L238.40,99.61 L238.90,99.61 L239.40,99.61 L239.90,99.60 L240.40,99.60 L240.90,99.59 L241.40,99.59 L241.90,99.58 L242.40,99.58 L242.90,99.58 L243.40,99.57 L243.90,99.57 L244.40,99.56 L244.90,99.56 L245.40,99.56 L245.90,99.55 L246.40,99.55 L246.90,99.54 L247.40,99.54 L247.90,99.54 L248.40,99.53 L248.90,99.53 L249.40,99.52 L249.90,99.52 L250.40,99.52 L250.90,99.51 L251.40,99.51 L251.90,99.51 L252.40,99.50 L252.90,99.50 L253.40,99.49 L253.90,99.49 L254.40,99.49 L254.90,99.48 L255.40,99.48 L255.90,99.48 L256.40,99.47 L256.90,99.47 L257.40,99.47 L257.90,99.46 L258.40,99.46 L258.90,99.46 L259.40,99.45 L259.90,99.45 L260.40,99.45 L260.90,99.44 L261.40,99.44 L261.90,99.44 L262.40,99.43 L262.90,99.43 L263.40,99.43 L263.90,99.42 L264.40,99.42 L264.90,99.42 L265.40,99.41 L265.90,99.41 L266.40,99.41 L266.90,99.40 L267.40,99.40 L267.90,99.40 L268.40,99.40 L268.90,99.39 L269.40,99.39 L269.90,99.39 L270.40,99.39 L270.90,99.38 L271.40,99.38 L271.90,99.38 L272.40,99.37 L272.90,99.37 L273.40,99.37 L273.90,99.37 L274.40,99.37 L274.90,99.36 L275.40,99.36 L275.90,99.36 L276.40,99.36 L276.90,99.35 L277.40,99.35 L277.90,99.35 L278.40,99.35 L278.90,99.35 L279.40,99.34 L279.90,99.34 L280.40,99.34 L280.90,99.34 L281.40,99.34 L281.90,99.33 L282.40,99.33 L282.90,99.33 L283.40,99.33 L283.90,99.33 L284.40,99.33 L284.90,99.32 L285.40,99.32 L285.90,99.32 L286.40,99.32 L286.90,99.32 L287.40,99.32 L287.90,99.32 L288.40,99.31 L288.90,99.31 L289.40,99.31 L289.90,99.31 L290.40,99.31 L290.90,99.31 L291.40,99.31 L291.90,99.31 L292.40,99.31 L292.90,99.31 L293.40,99.30 L293.90,99.30 L294.40,99.30 L294.90,99.30 L295.40,99.30 L295.90,99.30 L296.40,99.30 L296.90,99.30 L297.40,99.30 L297.90,99.30 L298.40,99.30 L298.90,99.30 L299.40,99.30 L299.90,99.30 L300.40,99.30 L300.90,99.30 L301.40,99.30 L301.90,99.30 L302.40,99.30 L302.90,99.30 L303.40,99.30 L303.90,99.30 L304.40,99.30 L304.90,99.30 L305.40,99.30 L305.90,99.30 L306.40,99.30 L306.90,99.30 L307.40,99.30 L307.90,99.30 L308.40,99.30 L308.90,99.30 L309.40,99.30 L309.90,99.30 L310.40,99.30 L310.90,99.30 L311.40,99.30 L311.90,99.30 L312.40,99.30 L312.90,99.30 L313.40,99.30 L313.90,99.30 L314.40,99.30 L314.90,99.30 L315.40,99.30 L315.90,99.30 L316.40,99.30 L316.90,99.30 L317.40,99.30 L317.90,99.30 L318.40,99.30 L318.90,99.30 L319.40,99.30 L319.90,99.30 L320.40,99.30 L320.90,99.30 L321.40,99.30 L321.90,99.30 L322.40,99.30 L322.90,99.30 L323.40,99.30 L323.90,99.30 L324.40,99.30 L324.90,99.30 L325.40,99.30 L325.90,99.30 L326.40,99.30 L326.90,99.30 L327.40,99.30 L327.90,99.30 L328.40,99.30 L328.90,99.30 L329.40,99.30 L329.90,99.30 L330.40,99.30 L330.90,99.30 L331.40,99.30 L331.90,99.30 L332.40,99.30 L332.90,99.30 L333.40,99.30 L333.90,99.30 L334.40,99.30 L334.90,99.30 L335.40,99.30 L335.90,99.30 L336.40,99.30 L336.90,99.30 L337.40,99.30 L337.90,99.30 L338.40,99.30 L338.90,99.30 L339.40,99.30 L339.90,99.30 L340.40,99.30 L340.90,99.30 L341.40,99.30 L341.90,99.30 L342.40,99.30 L342.90,99.30 L343.40,99.30 L343.90,99.30 L344.40,99.30 L344.90,99.30 L345.40,99.30 L345.90,99.30 L346.40,99.30 L346.90,99.30 L347.40,99.30 L347.90,99.30 L348.40,99.30 L348.90,99.30 L349.40,99.30 L349.90,99.30 L350.40,99.30 L350.90,99.30 L351.40,99.30 L351.90,99.30 L352.40,99.30 L352.90,99.30 L353.40,99.30 L353.90,99.30 L354.40,99.30 L354.90,99.30 L355.40,99.30 L355.90,99.30 L356.40,99.30 L356.90,99.30 L357.40,99.30 L357.90,99.30 L358.40,99.30 L358.90,99.30 L359.40,99.30 L359.90,99.30 L360.40,99.30 L360.90,99.30 L361.40,99.30 L361.90,99.30 L362.40,99.30 L362.90,99.30 L363.40,99.30 L363.90,99.30 L364.40,99.30 L364.90,99.30 L365.40,99.30 L365.90,99.30 L366.40,99.30 L366.90,99.30 L367.40,99.30 L367.90,99.30 L368.40,99.30 L368.90,99.30 L369.40,99.30 L369.90,99.30 L370.40,99.30 L370.90,99.30 L371.40,99.30 L371.90,99.30 L372.40,99.30 L372.90,99.30 L373.40,99.30 L373.90,99.30 L374.40,99.30 L374.90,99.30 L375.40,99.30 L375.90,99.30 L376.40,99.30 L376.90,99.30 L377.40,99.30 L377.90,99.30 L378.40,99.30 L378.90,99.30 L379.40,99.30 L379.90,99.30 L380.40,99.30 L380.90,99.30 L381.40,99.30 L381.90,99.30 L382.40,99.30 L382.90,99.30 L383.40,99.30 L383.90,99.30 L384.40,99.30 L384.90,99.30 L385.40,99.30 L385.90,99.30 L386.40,99.30 L386.90,99.30 L387.40,99.30 L387.90,99.30 L388.40,99.30 L388.90,99.30 L389.40,99.30 L389.90,99.30 L390.40,99.30 L390.90,99.30 L391.40,99.30 L391.90,99.30 L392.40,99.30 L392.90,99.30 L393.40,99.30 L393.90,99.30 L394.40,99.30 L394.90,99.30 L395.40,99.30 L395.90,99.30 L396.40,99.30 L396.90,99.30 L397.40,99.30 L397.90,99.30 L398.40,99.30 L398.90,99.30 L399.40,99.30 L399.90,99.30 L400.40,99.30 L400.90,99.30 L401.40,99.30 L401.90,99.30 L402.40,99.30 L402.90,99.30 L403.40,99.30 L403.90,99.30 L404.40,99.30 L404.90,99.30 L405.40,99.30 L405.90,99.30 L406.40,99.30 L406.90,99.30 L407.40,99.30 L407.90,99.30 L408.40,99.30 L408.90,99.30 L409.40,99.30 L409.90,99.30 L410.40,99.30 L410.90,99.30 L411.40,99.30 L411.90,99.30 L412.40,99.30 L412.90,99.30 L413.40,99.30 L413.90,99.30 L414.40,99.30 L414.90,99.30 L415.40,99.30 L415.90,99.30 L416.40,99.30 L416.90,99.30 L417.40,99.30 L417.90,99.30 L418.40,99.30 L418.90,99.30 L419.40,99.30 L419.90,99.30 L674.50,99.30" fill="none" stroke="#008000" stroke-width="1.4" stroke-linejoin="round"/>
<path d="M83.00,9.90 L83.50,14.38 L84.00,18.66 L84.50,22.66 L85.00,26.34 L85.50,29.61 L86.00,32.47 L86.50,35.06 L87.00,37.43 L87.50,39.63 L88.00,41.71 L88.50,43.72 L89.00,45.70 L89.50,47.70 L90.00,49.68 L90.50,51.62 L91.00,53.51 L91.50,55.37 L92.00,57.18 L92.50,58.95 L93.00,60.68 L93.50,62.37 L94.00,64.03 L94.50,65.68 L95.00,67.34 L95.50,68.99 L96.00,70.61 L96.50,72.20 L97.00,73.72 L97.50,75.18 L98.00,76.55 L98.50,77.83 L99.00,78.98 L99.50,80.05 L100.00,81.08 L100.50,82.07 L101.00,83.01 L101.50,83.91 L102.00,84.75 L102.50,85.52 L103.00,86.23 L103.50,86.86 L104.00,87.40 L104.50,87.90 L105.00,88.39 L105.50,88.86 L106.00,89.29 L106.50,89.68 L107.00,90.00 L107.50,90.26 L108.00,90.44 L108.50,90.53 L109.00,90.59 L109.50,90.66 L110.00,90.71 L110.50,90.76 L111.00,90.80 L111.50,90.84 L112.00,90.86 L112.50,90.88 L113.00,90.90 L113.50,90.90 L114.00,90.88 L114.50,90.81 L115.00,90.70 L115.50,90.56 L116.00,90.39 L116.50,90.20 L117.00,89.99 L117.50,89.76 L118.00,89.53 L118.50,89.30 L119.00,89.07 L119.50,88.84 L120.00,88.62 L120.50,88.38 L121.00,88.13 L121.50,87.86 L122.00,87.57 L122.50,87.28 L123.00,86.97 L123.50,86.66 L124.00,86.34 L124.50,86.02 L125.00,85.69 L125.50,85.36 L126.00,85.04 L126.50,84.72 L127.00,84.40 L127.50,84.08 L128.00,83.78 L128.50,83.47 L129.00,83.15 L129.50,82.83 L130.00,82.50 L130.50,82.17 L131.00,81.83 L131.50,81.50 L132.00,81.16 L132.50,80.83 L133.00,80.50 L133.50,80.17 L134.00,79.85 L134.50,79.53 L135.00,79.22 L135.50,78.91 L136.00,78.62 L136.50,78.33 L137.00,78.06 L137.50,77.80 L138.00,77.55 L138.50,77.31 L139.00,77.08 L139.50,76.85 L140.00,76.63 L140.50,76.41 L141.00,76.20 L141.50,75.99 L142.00,75.78 L142.50,75.58 L143.00,75.38 L143.50,75.19 L144.00,75.00 L144.50,74.82 L145.00,74.64 L145.50,74.46 L146.00,74.29 L146.50,74.12 L147.00,73.95 L147.50,73.79 L148.00,73.63 L148.50,73.47 L149.00,73.31 L149.50,73.16 L150.00,73.01 L150.50,72.86 L151.00,72.72 L151.50,72.58 L152.00,72.44 L152.50,72.30 L153.00,72.16 L153.50,72.03 L154.00,71.90 L154.50,71.77 L155.00,71.65 L155.50,71.53 L156.00,71.41 L156.50,71.29 L157.00,71.17 L157.50,71.06 L158.00,70.95 L158.50,70.84 L159.00,70.74 L159.50,70.63 L160.00,70.53 L160.50,70.43 L161.00,70.34 L161.50,70.24 L162.00,70.15 L162.50,70.06 L163.00,69.97 L163.50,69.88 L164.00,69.80 L164.50,69.71 L165.00,69.63 L165.50,69.54 L166.00,69.46 L166.50,69.38 L167.00,69.30 L167.50,69.21 L168.00,69.13 L168.50,69.05 L169.00,68.97 L169.50,68.89 L170.00,68.81 L170.50,68.73 L171.00,68.65 L171.50,68.57 L172.00,68.48 L172.50,68.40 L173.00,68.32 L173.50,68.23 L174.00,68.15 L174.50,68.06 L175.00,67.98 L175.50,67.89 L176.00,67.81 L176.50,67.73 L177.00,67.64 L177.50,67.56 L178.00,67.48 L178.50,67.39 L179.00,67.31 L179.50,67.23 L180.00,67.14 L180.50,67.06 L181.00,66.98 L181.50,66.90 L182.00,66.81 L182.50,66.73 L183.00,66.65 L183.50,66.57 L184.00,66.48 L184.50,66.40 L185.00,66.32 L185.50,66.23 L186.00,66.15 L186.50,66.07 L187.00,65.98 L187.50,65.90 L188.00,65.82 L188.50,65.73 L189.00,65.65 L189.50,65.57 L190.00,65.49 L190.50,65.41 L191.00,65.32 L191.50,65.24 L192.00,65.16 L192.50,65.08 L193.00,65.00 L193.50,64.92 L194.00,64.84 L194.50,64.75 L195.00,64.67 L195.50,64.59 L196.00,64.50 L196.50,64.42 L197.00,64.33 L197.50,64.25 L198.00,64.16 L198.50,64.07 L199.00,63.98 L199.50,63.89 L200.00,63.80 L200.50,63.71 L201.00,63.61 L201.50,63.52 L202.00,63.42 L202.50,63.32 L203.00,63.22 L203.50,63.12 L204.00,63.02 L204.50,62.92 L205.00,62.81 L205.50,62.71 L206.00,62.60 L206.50,62.49 L207.00,62.38 L207.50,62.27 L208.00,62.16 L208.50,62.05 L209.00,61.94 L209.50,61.83 L210.00,61.71 L210.50,61.60 L211.00,61.49 L211.50,61.37 L212.00,61.25 L212.50,61.14 L213.00,61.02 L213.50,60.90 L214.00,60.78 L214.50,60.66 L215.00,60.54 L215.50,60.42 L216.00,60.30 L216.50,60.18 L217.00,60.06 L217.50,59.93 L218.00,59.81 L218.50,59.69 L219.00,59.57 L219.50,59.44 L220.00,59.32 L220.50,59.20 L221.00,59.07 L221.50,58.95 L222.00,58.82 L222.50,58.70 L223.00,58.58 L223.50,58.45 L224.00,58.32 L224.50,58.20 L225.00,58.07 L225.50,57.94 L226.00,57.81 L226.50,57.68 L227.00,57.55 L227.50,57.42 L228.00,57.29 L228.50,57.16 L229.00,57.03 L229.50,56.90 L230.00,56.77 L230.50,56.64 L231.00,56.50 L231.50,56.37 L232.00,56.24 L232.50,56.11 L233.00,55.97 L233.50,55.84 L234.00,55.71 L234.50,55.58 L235.00,55.44 L235.50,55.31 L236.00,55.18 L236.50,55.05 L237.00,54.91 L237.50,54.78 L238.00,54.65 L238.50,54.52 L239.00,54.39 L239.50,54.26 L240.00,54.13 L240.50,54.00 L241.00,53.87 L241.50,53.74 L242.00,53.60 L242.50,53.47 L243.00,53.34 L243.50,53.21 L244.00,53.08 L244.50,52.95 L245.00,52.82 L245.50,52.68 L246.00,52.55 L246.50,52.42 L247.00,52.29 L247.50,52.16 L248.00,52.03 L248.50,51.90 L249.00,51.76 L249.50,51.63 L250.00,51.50 L250.50,51.37 L251.00,51.24 L251.50,51.11 L252.00,50.98 L252.50,50.85 L253.00,50.71 L253.50,50.58 L254.00,50.45 L254.50,50.32 L255.00,50.19 L255.50,50.06 L256.00,49.93 L256.50,49.80 L257.00,49.66 L257.50,49.53 L258.00,49.40 L258.50,49.27 L259.00,49.13 L259.50,49.00 L260.00,48.87 L260.50,48.74 L261.00,48.60 L261.50,48.47 L262.00,48.34 L262.50,48.21 L263.00,48.08 L263.50,47.94 L264.00,47.81 L264.50,47.68 L265.00,47.55 L265.50,47.42 L266.00,47.29 L266.50,47.16 L267.00,47.03 L267.50,46.91 L268.00,46.78 L268.50,46.65 L269.00,46.53 L269.50,46.40 L270.00,46.27 L270.50,46.15 L271.00,46.03 L271.50,45.90 L272.00,45.78 L272.50,45.66 L273.00,45.54 L273.50,45.41 L274.00,45.29 L274.50,45.17 L275.00,45.05 L275.50,44.93 L276.00,44.81 L276.50,44.69 L277.00,44.57 L277.50,44.45 L278.00,44.33 L278.50,44.22 L279.00,44.10 L279.50,43.98 L280.00,43.86 L280.50,43.75 L281.00,43.63 L281.50,43.51 L282.00,43.40 L282.50,43.28 L283.00,43.16 L283.50,43.05 L284.00,42.93 L284.50,42.82 L285.00,42.70 L285.50,42.58 L286.00,42.47 L286.50,42.35 L287.00,42.24 L287.50,42.12 L288.00,42.01 L288.50,41.90 L289.00,41.78 L289.50,41.67 L290.00,41.56 L290.50,41.45 L291.00,41.33 L291.50,41.22 L292.00,41.11 L292.50,41.00 L293.00,40.89 L293.50,40.78 L294.00,40.66 L294.50,40.55 L295.00,40.44 L295.50,40.33 L296.00,40.22 L296.50,40.11 L297.00,40.00 L297.50,39.89 L298.00,39.78 L298.50,39.67 L299.00,39.56 L299.50,39.45 L300.00,39.33 L300.50,39.22 L301.00,39.11 L301.50,39.00 L302.00,38.89 L302.50,38.78 L303.00,38.67 L303.50,38.55 L304.00,38.44 L304.50,38.32 L305.00,38.21 L305.50,38.09 L306.00,37.98 L306.50,37.86 L307.00,37.75 L307.50,37.63 L308.00,37.52 L308.50,37.40 L309.00,37.28 L309.50,37.17 L310.00,37.05 L310.50,36.94 L311.00,36.82 L311.50,36.71 L312.00,36.60 L312.50,36.48 L313.00,36.37 L313.50,36.26 L314.00,36.15 L314.50,36.04 L315.00,35.93 L315.50,35.82 L316.00,35.71 L316.50,35.61 L317.00,35.50 L317.50,35.40 L318.00,35.30 L318.50,35.20 L319.00,35.10 L319.50,35.00 L320.00,34.90 L320.50,34.81 L321.00,34.71 L321.50,34.61 L322.00,34.51 L322.50,34.42 L323.00,34.32 L323.50,34.23 L324.00,34.13 L324.50,34.04 L325.00,33.95 L325.50,33.86 L326.00,33.77 L326.50,33.68 L327.00,33.59 L327.50,33.51 L328.00,33.42 L328.50,33.34 L329.00,33.26 L329.50,33.17 L330.00,33.10 L330.50,33.02 L331.00,32.94 L331.50,32.87 L332.00,32.80 L332.50,32.73 L333.00,32.65 L333.50,32.58 L334.00,32.51 L334.50,32.45 L335.00,32.38 L335.50,32.31 L336.00,32.25 L336.50,32.18 L337.00,32.12 L337.50,32.06 L338.00,32.00 L338.50,31.95 L339.00,31.89 L339.50,31.84 L340.00,31.79 L340.50,31.74 L341.00,31.69 L341.50,31.65 L342.00,31.60 L342.50,31.56 L343.00,31.51 L343.50,31.47 L344.00,31.43 L344.50,31.39 L345.00,31.35 L345.50,31.31 L346.00,31.27 L346.50,31.24 L347.00,31.20 L347.50,31.17 L348.00,31.14 L348.50,31.11 L349.00,31.08 L349.50,31.05 L350.00,31.03 L350.50,31.00 L351.00,30.98 L351.50,30.96 L352.00,30.94 L352.50,30.92 L353.00,30.90 L353.50,30.88 L354.00,30.87 L354.50,30.85 L355.00,30.83 L355.50,30.81 L356.00,30.80 L356.50,30.78 L357.00,30.76 L357.50,30.75 L358.00,30.73 L358.50,30.72 L359.00,30.71 L359.50,30.69 L360.00,30.68 L360.50,30.67 L361.00,30.65 L361.50,30.64 L362.00,30.63 L362.50,30.62 L363.00,30.61 L363.50,30.60 L364.00,30.59 L364.50,30.58 L365.00,30.57 L365.50,30.57 L366.00,30.56 L366.50,30.55 L367.00,30.54 L367.50,30.54 L368.00,30.53 L368.50,30.53 L369.00,30.52 L369.50,30.51 L370.00,30.51 L370.50,30.50 L371.00,30.50 L371.50,30.49 L372.00,30.49 L372.50,30.48 L373.00,30.48 L373.50,30.47 L374.00,30.47 L374.50,30.46 L375.00,30.46 L375.50,30.46 L376.00,30.45 L376.50,30.45 L377.00,30.44 L377.50,30.44 L378.00,30.44 L378.50,30.43 L379.00,30.43 L379.50,30.43 L380.00,30.42 L380.50,30.42 L381.00,30.42 L381.50,30.41 L382.00,30.41 L382.50,30.41 L383.00,30.41 L383.50,30.41 L384.00,30.40 L384.50,30.40 L385.00,30.40 L385.50,30.40 L386.00,30.40 L386.50,30.40 L387.00,30.39 L387.50,30.39 L388.00,30.39 L388.50,30.39 L389.00,30.39 L389.50,30.39 L390.00,30.38 L390.50,30.38 L391.00,30.38 L391.50,30.38 L392.00,30.38 L392.50,30.38 L393.00,30.38 L393.50,30.37 L394.00,30.37 L394.50,30.37 L395.00,30.37 L395.50,30.37 L396.00,30.37 L396.50,30.37 L397.00,30.37 L397.50,30.36 L398.00,30.36 L398.50,30.36 L399.00,30.36 L399.50,30.36 L400.00,30.36 L400.50,30.36 L401.00,30.36 L401.50,30.36 L402.00,30.36 L402.50,30.36 L403.00,30.35 L403.50,30.35 L404.00,30.35 L404.50,30.35 L405.00,30.35 L405.50,30.35 L406.00,30.35 L406.50,30.35 L407.00,30.35 L407.50,30.35 L408.00,30.35 L408.50,30.35 L409.00,30.35 L409.50,30.35 L410.00,30.35 L410.50,30.35 L411.00,30.35 L411.50,30.35 L412.00,30.35 L412.50,30.35 L413.00,30.35 L413.50,30.35 L414.00,30.35 L414.50,30.35 L415.00,30.35 L415.50,30.35 L416.00,30.35 L416.50,30.35 L417.00,30.35 L417.50,30.35 L418.00,30.35 L418.50,30.35 L419.00,30.35 L419.50,30.35 L674.50,30.35" fill="none" stroke="#ff00ff" stroke-width="1.4" stroke-linejoin="round"/>
<g stroke="#222" stroke-width="1" fill="none" stroke-linejoin="miter">
<path d="M68.5,232.4 V10.2 H674.5 V232.4"/>
<path d="M68.5,240.0 V462.3 H674.5 V240.0"/>
<path d="M64.9,236.0 L72.1,228.8" stroke-width="1.25"/>
<path d="M64.9,243.6 L72.1,236.4" stroke-width="1.25"/>
<path d="M670.9,236.0 L678.1,228.8" stroke-width="1.25"/>
<path d="M670.9,243.6 L678.1,236.4" stroke-width="1.25"/>
<path d="M68.5,32.15 h2.5"/>
<path d="M68.5,54.40 h3.7"/>
<path d="M68.5,76.65 h2.5"/>
<path d="M68.5,98.90 h3.7"/>
<path d="M68.5,121.15 h2.5"/>
<path d="M68.5,143.40 h3.7"/>
<path d="M68.5,165.65 h2.5"/>
<path d="M68.5,187.90 h3.7"/>
<path d="M68.5,210.15 h2.5"/>
<path d="M68.5,314.0 h3.7"/>
<path d="M91.81,462.3 v-2.5"/>
<path d="M130.65,462.3 v-3.7"/>
<path d="M169.50,462.3 v-2.5"/>
<path d="M208.35,462.3 v-3.7"/>
<path d="M247.19,462.3 v-2.5"/>
<path d="M286.04,462.3 v-3.7"/>
<path d="M324.88,462.3 v-2.5"/>
<path d="M363.73,462.3 v-3.7"/>
<path d="M402.58,462.3 v-2.5"/>
<path d="M441.42,462.3 v-3.7"/>
<path d="M480.27,462.3 v-2.5"/>
<path d="M519.12,462.3 v-3.7"/>
<path d="M557.96,462.3 v-2.5"/>
<path d="M596.81,462.3 v-3.7"/>
<path d="M635.65,462.3 v-2.5"/>
<path d="M674.50,462.3 v-3.7"/>
</g>
<g font-family="Liberation Sans, Arial, sans-serif" font-size="17.3" fill="#000">
<text x="64.5" y="14.7" text-anchor="end">-0,48</text>
<text x="64.5" y="60.1" text-anchor="end">-0,50</text>
<text x="64.5" y="104.3" text-anchor="end">-0,52</text>
<text x="64.5" y="149.1" text-anchor="end">-0,54</text>
<text x="64.5" y="193.6" text-anchor="end">-0,56</text>
<text x="64.5" y="238.1" text-anchor="end">-0,58</text>
<text x="64.5" y="318.4" text-anchor="end">-0,64</text>
<text x="130.7" y="479.4" text-anchor="middle">5</text>
<text x="208.3" y="479.4" text-anchor="middle">10</text>
<text x="286.0" y="479.4" text-anchor="middle">15</text>
<text x="363.7" y="479.4" text-anchor="middle">20</text>
<text x="441.4" y="479.4" text-anchor="middle">25</text>
<text x="519.1" y="479.4" text-anchor="middle">30</text>
<text x="596.8" y="479.4" text-anchor="middle">35</text>
<text x="674.5" y="479.4" text-anchor="middle">40</text>
</g>
<g font-family="Liberation Serif, Times New Roman, serif" font-weight="bold" font-size="21.5" fill="#000">
<text x="376.6" y="498.6" text-anchor="middle">R (a.u)</text>
<text transform="translate(17.4,210.3) rotate(-90)" text-anchor="middle">E (a.u)</text>
</g>
<g font-family="Liberation Serif, Times New Roman, serif" font-size="15">
<text x="666.9" y="49.1" text-anchor="end" fill="#ff00ff">Ag(6d)+H(1s)</text>
<text x="666.9" y="89.2" text-anchor="end" fill="#008000">Ag(7p)+H(1s)</text>
<text x="664.9" y="143.9" text-anchor="end" fill="#0000ff">Ag(5d)+H(1s)</text>
<text x="666.6" y="200.9" text-anchor="end" fill="#ff0000">Ag(6p)+H(1s)</text>
<text x="666.9" y="343.9" text-anchor="end" fill="#000">Ag(5p)+H(1s)</text>
</g>
<g font-family="Liberation Serif, Times New Roman, serif" fill="#ff0080" stroke="#ff0080" stroke-width="0.3"><text x="286.4" y="68.5" font-size="16">4</text><text x="294.5" y="59.1" font-size="15">1</text><text x="301.4" y="68.5" font-size="14.5">Π</text></g>
<g font-family="Liberation Serif, Times New Roman, serif" fill="#008000" stroke="#008000" stroke-width="0.15"><text x="96.5" y="116.7" font-size="15.5">3</text><text x="104.0" y="107.3" font-size="15">1</text><text x="111.3" y="116.7" font-size="14.5">Π</text></g>
<g font-family="Liberation Serif, Times New Roman, serif" fill="#0000ff" stroke="#0000ff" stroke-width="0.15"><text x="132.8" y="159.3" font-size="15.5">2</text><text x="141.2" y="149.9" font-size="15">1</text><text x="147.9" y="159.3" font-size="14.5">Π</text></g>
<g font-family="Liberation Serif, Times New Roman, serif" fill="#ff0000" stroke="#ff0000" stroke-width="0.15"><text x="128.9" y="219.9" font-size="15.5">1</text><text x="136.5" y="210.5" font-size="15">1</text><text x="143.0" y="219.9" font-size="14.5">Π</text></g>
<g font-family="Liberation Serif, Times New Roman, serif" fill="#000" stroke="#000" stroke-width="0.15"><text x="128.8" y="403.8" font-size="15.5">B</text><text x="138.6" y="394.3" font-size="12">1</text><text x="145.0" y="403.8" font-size="11">Π</text></g>
</svg>
</body></html>
